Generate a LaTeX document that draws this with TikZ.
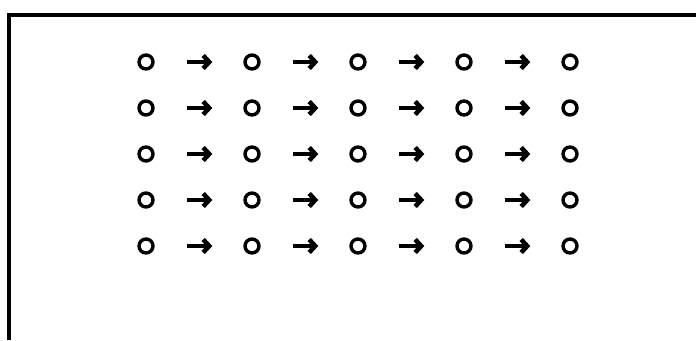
\documentclass[tikz,border=0pt]{standalone}
\usetikzlibrary{arrows.meta}
\tikzset{
  dot/.style={circle,draw,line width=3.4pt,inner sep=0pt,minimum size=14pt},
  flow/.style={line width=4.6pt,-{Straight Barb[length=6pt,width=13pt]},shorten <=32pt,shorten >=31pt}
}
\begin{document}
\begin{tikzpicture}[x=1pt,y=-1pt]
\useasboundingbox (0,0) rectangle (696,340);
\draw[line width=3.2pt] (9,340)--(9,15)--(696,15);
\foreach \r in {1,...,5}
  \foreach \c in {1,...,5}
    \node[dot] (d-\r-\c) at ({146+106*(\c-1)},{62+46*(\r-1)}) {};
\foreach \r in {1,...,5}
  \foreach \c/\n in {1/2,2/3,3/4,4/5}
    \draw[flow] (d-\r-\c) -- (d-\r-\n);
\end{tikzpicture}
\end{document}
